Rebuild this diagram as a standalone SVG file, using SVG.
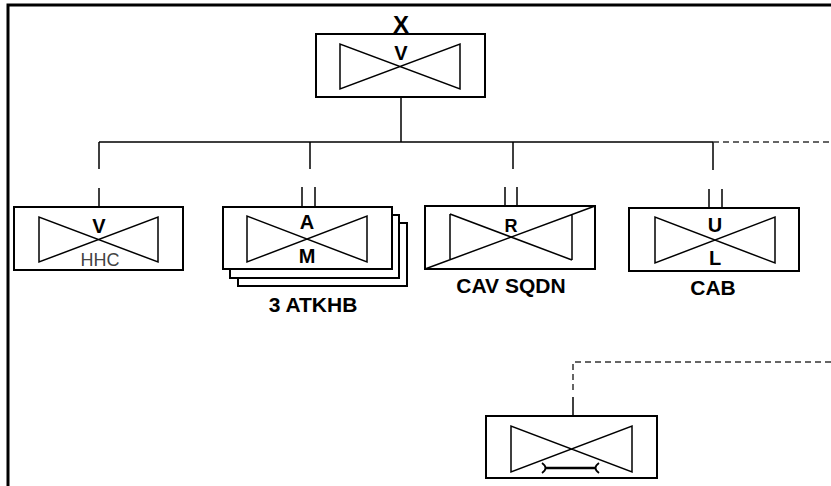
<svg xmlns="http://www.w3.org/2000/svg" width="831" height="486" viewBox="0 0 831 486">
<style>
.box{fill:#fff;stroke:#000;stroke-width:2}
.bt{fill:none;stroke:#000;stroke-width:1.5}
.ln{fill:none;stroke:#000;stroke-width:1.5}
.dash{fill:none;stroke:#333;stroke-width:1.5;stroke-dasharray:6,4}
.t{font-family:"Liberation Sans",Arial,sans-serif;font-weight:bold;font-size:20px;fill:#000;text-anchor:middle}
.lbl{font-family:"Liberation Sans",Arial,sans-serif;font-weight:bold;font-size:21px;fill:#000;text-anchor:middle}
</style>
<rect x="0" y="0" width="831" height="486" fill="#fff"/>
<path d="M8,486 V5 H831" fill="none" stroke="#000" stroke-width="3"/>
<g id="connectors">
<path class="ln" d="M401,97 V142 M99,142 H713 M99,142 V169 M310,142 V169 M513,142 V169 M713,142 V170"/>
<path class="dash" d="M713,142 H831"/>
<path class="ln" d="M99,188 V207 M302,187 V207 M315,187 V207 M505,187 V206 M517,187 V206 M709,189 V208 M722,189 V208"/>
<path class="dash" d="M831,362 H573 V390"/>
<path class="ln" d="M573,397 V416"/>
</g>
<g id="node-top">
<text x="401" y="33" class="t" style="font-size:24px">X</text>
<rect class="box" x="316" y="34" width="169" height="63"/>
<path class="bt" d="M340,44 V89 L460,44 V89 Z"/>
<text x="401" y="60" class="t">V</text>
</g>
<g id="node-hhc">
<rect class="box" x="14" y="207" width="169" height="63"/>
<path class="bt" d="M39,217 V262 L158,217 V262 Z"/>
<text x="99" y="233" class="t">V</text>
<text x="100" y="266" font-family="Liberation Sans,Arial,sans-serif" font-size="18" fill="#444" text-anchor="middle">HHC</text>
</g>
<g id="node-atkhb">
<rect class="box" x="238" y="223" width="169" height="63"/>
<rect class="box" x="230" y="215" width="169" height="63"/>
<rect class="box" x="223" y="207" width="169" height="62"/>
<path class="bt" d="M247,216 V262 L367,216 V262 Z"/>
<text x="307" y="229" class="t">A</text>
<text x="307" y="263" class="t">M</text>
<text x="313" y="312" class="lbl">3 ATKHB</text>
</g>
<g id="node-cav">
<rect class="box" x="425" y="206" width="170" height="63"/>
<path class="bt" d="M450,214 V259 M572,214 V260 M450,214 L572,260 M425,269 L595,206"/>
<text x="511" y="232" class="t" style="font-size:18px">R</text>
<text x="511" y="293" class="lbl">CAV SQDN</text>
</g>
<g id="node-cab">
<rect class="box" x="629" y="208" width="170" height="63"/>
<path class="bt" d="M655,217 V263 L775,217 V263 Z"/>
<text x="715" y="232" class="t">U</text>
<text x="715" y="265" class="t">L</text>
<text x="713" y="295" class="lbl">CAB</text>
</g>
<g id="node-maint">
<rect class="box" x="486" y="416" width="171" height="62"/>
<path class="bt" d="M511,426 V472 L632,426 V472 Z"/>
<path fill="none" stroke="#000" stroke-width="2.5" d="M546,468 H595"/>
<path fill="none" stroke="#000" stroke-width="1.8" d="M542,463 Q549,468 542,473 M599,463 Q592,468 599,473"/>
</g>
</svg>
